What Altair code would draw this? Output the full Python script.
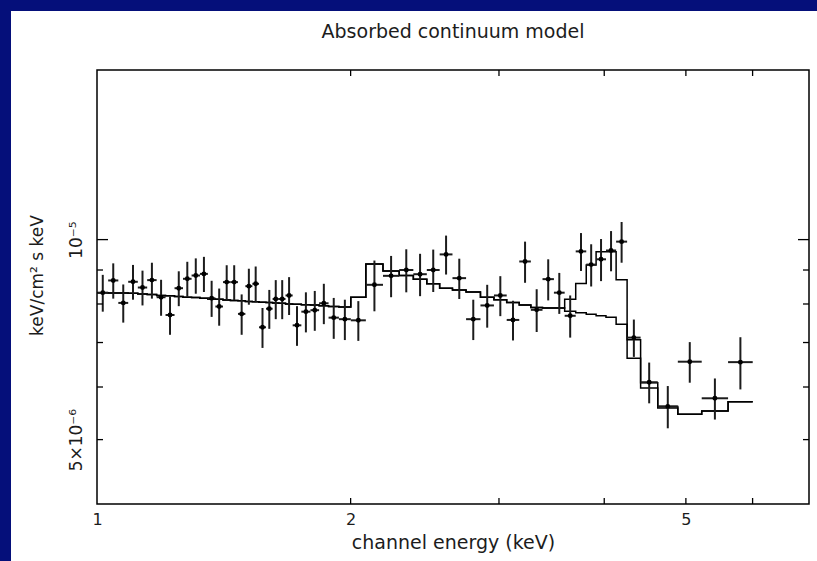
import altair as alt
import pandas as pd
import numpy as np

FONT = "DejaVu Sans"
INK = "#1c1c1c"
NAVY = "#050f7a"

W, H = 712, 434
PAD_L, PAD_T, PAD_R, PAD_B = 97, 70, 8, 57

# channel bin edges (keV), 58 channels
bin_edges_kev = [1.001, 1.031, 1.060, 1.089, 1.118, 1.147, 1.177, 1.206, 1.236, 1.265,
                 1.295, 1.325, 1.354, 1.382, 1.411, 1.440, 1.470, 1.500, 1.529, 1.557,
                 1.587, 1.616, 1.644, 1.674, 1.707, 1.748, 1.792, 1.835, 1.883, 1.937,
                 2.001, 2.085, 2.185, 2.284, 2.374, 2.463, 2.551, 2.642, 2.742, 2.852,
                 2.959, 3.064, 3.171, 3.273, 3.379, 3.486, 3.590, 3.700, 3.808, 3.912,
                 4.019, 4.132, 4.258, 4.418, 4.630, 4.891, 5.221, 5.611, 6.002]

# unfolded data, units of 1e-6 keV/cm^2 s keV
flux = [8.32, 8.68, 8.03, 8.64, 8.47, 8.69, 8.19, 7.70, 8.45, 8.73,
        8.83, 8.88, 8.16, 7.93, 8.63, 8.63, 7.73, 8.51, 8.58, 7.38,
        7.87, 8.14, 8.14, 8.24, 7.43, 7.79, 7.83, 8.02, 7.63, 7.59,
        7.56, 8.55, 8.82, 9.00, 8.87, 9.00, 9.50, 8.75, 7.59, 7.96,
        8.24, 7.57, 9.27, 7.84, 8.72, 8.32, 7.68, 9.60, 9.17, 9.34,
        9.63, 9.93, 7.12, 6.10, 5.61, 6.55, 5.77, 6.54]
flux_err = [0.53, 0.53, 0.53, 0.52, 0.51, 0.54, 0.51, 0.51, 0.51, 0.53,
            0.54, 0.54, 0.51, 0.51, 0.52, 0.52, 0.54, 0.53, 0.53, 0.51,
            0.53, 0.55, 0.55, 0.54, 0.51, 0.54, 0.54, 0.56, 0.54, 0.53,
            0.52, 0.75, 0.63, 0.67, 0.65, 0.66, 0.64, 0.61, 0.53, 0.59,
            0.57, 0.52, 0.66, 0.58, 0.62, 0.59, 0.56, 0.63, 0.67, 0.68,
            0.67, 0.70, 0.46, 0.43, 0.41, 0.46, 0.41, 0.59]

# folded models per channel (1e-6)
model_total = [8.32, 8.31, 8.31, 8.30, 8.28, 8.27, 8.24, 8.23, 8.21, 8.19,
               8.18, 8.16, 8.14, 8.13, 8.11, 8.10, 8.09, 8.07, 8.06, 8.05,
               8.04, 8.03, 8.02, 8.00, 7.99, 7.98, 7.97, 7.95, 7.93, 7.92,
               8.19, 9.19, 8.97, 8.83, 8.72, 8.58, 8.45, 8.40, 8.34, 8.19,
               8.12, 8.04, 7.97, 7.90, 7.89, 7.89, 8.13, 8.59, 9.16, 9.59,
               9.59, 8.70, 7.07, 6.09, 5.61, 5.46, 5.52, 5.70]
model_continuum = [8.32, 8.31, 8.31, 8.30, 8.28, 8.27, 8.24, 8.23, 8.21, 8.19,
                   8.18, 8.16, 8.14, 8.13, 8.11, 8.10, 8.09, 8.07, 8.06, 8.05,
                   8.04, 8.03, 8.02, 8.00, 7.99, 7.98, 7.97, 7.95, 7.93, 7.92,
                   8.19, 9.19, 8.97, 8.83, 8.72, 8.58, 8.45, 8.40, 8.34, 8.19,
                   8.12, 8.04, 7.97, 7.90, 7.89, 7.89, 7.80, 7.76, 7.72, 7.68,
                   7.64, 7.46, 6.63, 5.98, 5.58, 5.46, 5.52, 5.70]

x_minor_ticks = [2, 3, 4, 5, 6]
x_label_values = [1, 2, 5]
y_minor_ticks = [5e-6, 6e-6, 7e-6, 8e-6, 9e-6]
y_major_ticks = [1e-5]
y_label_values = [5e-6, 1e-5]

# ---- tables built from the arrays ----
lo = np.array(bin_edges_kev[:-1])
hi = np.array(bin_edges_kev[1:])
f = np.array(flux) * 1e-6
e = np.array(flux_err) * 1e-6
data = pd.DataFrame({"e_lo": lo, "e_hi": hi, "e_mid": np.sqrt(lo * hi),
                     "flux": f, "f_lo": f - e, "f_hi": f + e})

rows = []
for name, vals in [("total", model_total), ("continuum", model_continuum)]:
    for i, v in enumerate(vals):
        rows.append({"model": name, "E": bin_edges_kev[i], "F": v * 1e-6})
    rows.append({"model": name, "E": bin_edges_kev[-1], "F": vals[-1] * 1e-6})
models = pd.DataFrame(rows)

xscale = alt.Scale(type="log", domain=[1, 7], nice=False)
yscale = alt.Scale(type="log", domain=[4e-6, 1.8e-5], nice=False)

x_axis = alt.Axis(values=x_label_values, format="d", ticks=False, tickSize=0, domain=False,
                  grid=False, labelFlush=False, labelOverlap=False, zindex=2,
                  labelFont=FONT, labelFontSize=16, labelColor=INK, labelPadding=7,
                  title="channel energy (keV)", titleFont=FONT, titleFontSize=19,
                  titleFontWeight="normal", titleColor=INK, titleY=38,
                  titleBaseline="middle")
y_axis = alt.Axis(values=y_label_values,
                  labelExpr="datum.value > 7e-6 ? '10⁻⁵' : '5×10⁻⁶'",
                  ticks=False, tickSize=0, domain=False, grid=False, zindex=2,
                  labelFlush=False, labelOverlap=False, labelAngle=270,
                  labelAlign="center", labelBaseline="bottom", labelPadding=12,
                  labelFont=FONT, labelFontSize=17, labelColor=INK,
                  title="keV/cm² s keV", titleFont=FONT, titleFontSize=17,
                  titleFontWeight="normal", titleColor=INK, titleAngle=270,
                  titleX=-60, titleY=205, titleAlign="center", titleBaseline="middle")

def X(field):
    return alt.X(field, scale=xscale, axis=x_axis)

def Y(field):
    return alt.Y(field, scale=yscale, axis=y_axis)

one = alt.Data(values=[{}])

paper = alt.Chart(one).mark_rect(color="white").encode(
    x=alt.value(-(PAD_L - 11)), x2=alt.value(W + PAD_R),
    y=alt.value(-(PAD_T - 11)), y2=alt.value(H + PAD_B))

model_lines = alt.Chart(models).mark_line(
    interpolate="step-after", color="black", strokeWidth=1.5).encode(
    x=X("E:Q"), y=Y("F:Q"), detail="model:N")

xerr = alt.Chart(data).mark_rule(color=INK, strokeWidth=2).encode(
    x=X("e_lo:Q"), x2="e_hi:Q", y=Y("flux:Q"))
yerr = alt.Chart(data).mark_rule(color=INK, strokeWidth=2).encode(
    x=X("e_mid:Q"), y=Y("f_lo:Q"), y2="f_hi:Q")
points = alt.Chart(data).mark_circle(size=24, color="black", opacity=1).encode(
    x=X("e_mid:Q"), y=Y("flux:Q"))

xt = alt.Chart(pd.DataFrame({"t": x_minor_ticks}))
x_ticks_bottom = xt.mark_rule(color="black", strokeWidth=1.3).encode(
    x=X("t:Q"), y=alt.value(H - 6), y2=alt.value(H))
x_ticks_top = xt.mark_rule(color="black", strokeWidth=1.3).encode(
    x=X("t:Q"), y=alt.value(0), y2=alt.value(6))

ytm = alt.Chart(pd.DataFrame({"t": y_minor_ticks}))
ytM = alt.Chart(pd.DataFrame({"t": y_major_ticks}))
y_minor_left = ytm.mark_rule(color="black", strokeWidth=1.3).encode(
    y=Y("t:Q"), x=alt.value(0), x2=alt.value(6))
y_minor_right = ytm.mark_rule(color="black", strokeWidth=1.3).encode(
    y=Y("t:Q"), x=alt.value(W - 6), x2=alt.value(W))
y_major_left = ytM.mark_rule(color="black", strokeWidth=1.3).encode(
    y=Y("t:Q"), x=alt.value(0), x2=alt.value(11))
y_major_right = ytM.mark_rule(color="black", strokeWidth=1.3).encode(
    y=Y("t:Q"), x=alt.value(W - 11), x2=alt.value(W))

frame = alt.Chart(one).mark_rect(fillOpacity=0, stroke="black", strokeWidth=1.5).encode(
    x=alt.value(0), x2=alt.value(W), y=alt.value(0), y2=alt.value(H))

title = alt.Chart(one).mark_text(
    text="Absorbed continuum model", font=FONT, fontSize=19, color=INK,
    align="center", baseline="middle").encode(x=alt.value(W / 2), y=alt.value(-38))

chart = alt.layer(
    paper, model_lines, xerr, yerr, points,
    x_ticks_bottom, x_ticks_top, y_minor_left, y_minor_right, y_major_left, y_major_right,
    frame, title
).properties(
    width=W, height=H,
    autosize=alt.AutoSizeParams(type="none"),
    padding={"left": PAD_L, "top": PAD_T, "right": PAD_R, "bottom": PAD_B},
    background=NAVY,
).configure_view(strokeWidth=0)

chart.save("out.html", embed_options={"renderer": "svg", "actions": False})
